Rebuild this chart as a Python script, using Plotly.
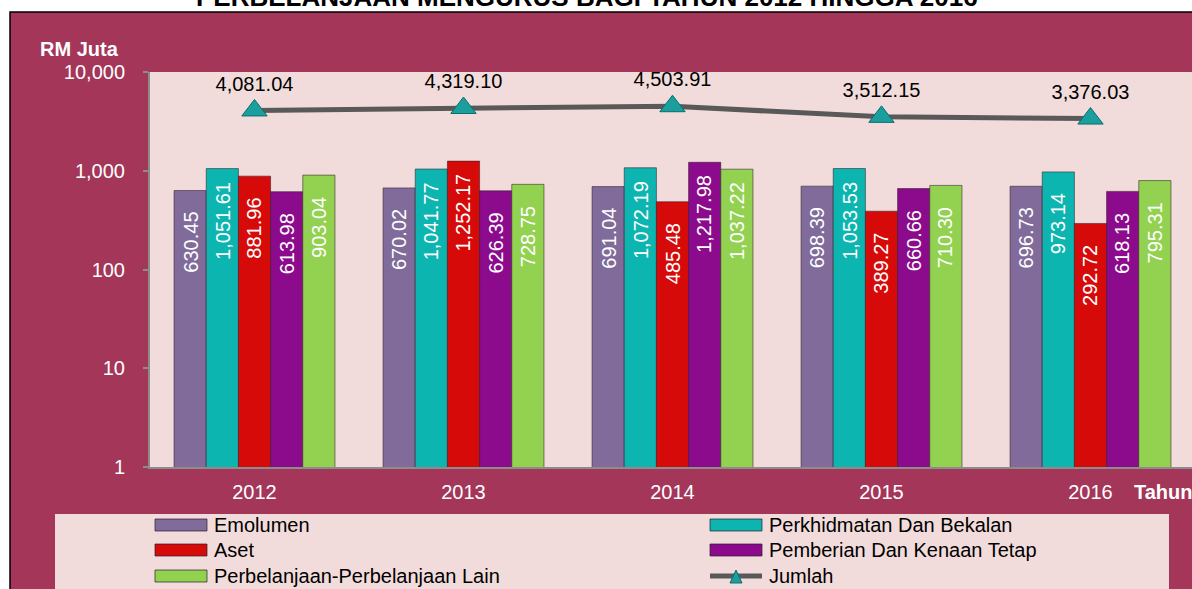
import math
import plotly.graph_objects as go

years = ["2012", "2013", "2014", "2015", "2016"]
series_names = ["Emolumen", "Perkhidmatan Dan Bekalan", "Aset",
                "Pemberian Dan Kenaan Tetap", "Perbelanjaan-Perbelanjaan Lain"]
emolumen = [630.45, 670.02, 691.04, 698.39, 696.73]
perkhidmatan = [1051.61, 1041.77, 1072.19, 1053.53, 973.14]
aset = [881.96, 1252.17, 485.48, 389.27, 292.72]
pemberian = [613.98, 626.39, 1217.98, 660.66, 618.13]
lain = [903.04, 728.75, 1037.22, 710.30, 795.31]
jumlah = [4081.04, 4319.10, 4503.91, 3512.15, 3376.03]
jumlah_name = "Jumlah"
y_tickvals = [1, 10, 100, 1000, 10000]
y_ticktext = ["1", "10", "100", "1,000", "10,000"]
title_text = "PERBELANJAAN MENGURUS BAGI TAHUN 2012 HINGGA 2016"

series_values = [emolumen, perkhidmatan, aset, pemberian, lain]
colors = ["#806B9B", "#0DB5B1", "#D70A0A", "#8C0B8D", "#93D151"]

FONT = "Arial, Liberation Sans, sans-serif"
W, H = 1192, 589
ML, MR, MT, MB = 150, 0, 72, 122
PW = W - ML - MR
PH = H - MT - MB

def px(x):
    return (x - ML) / PW

def py(y):
    return (H - MB - y) / PH

fig = go.Figure()
bargap = 0.23
bw = (1 - bargap) / len(series_names)

for i, (name, vals, col) in enumerate(zip(series_names, series_values, colors)):
    fig.add_trace(go.Bar(
        x=years, y=vals, name=name,
        marker=dict(color=col, line=dict(color="rgba(50,30,40,0.55)", width=1)),
        showlegend=False, hoverinfo="x+y+name"))

fig.add_trace(go.Scatter(
    x=years, y=jumlah, name=jumlah_name, mode="lines+markers+text",
    line=dict(color="#595959", width=5),
    marker=dict(symbol="triangle-up", size=22, color="#1A9E9E",
                line=dict(color="#0E6E6E", width=1)),
    text=[f"{v:,.2f}" for v in jumlah], textposition="top center",
    textfont=dict(family=FONT, size=20, color="#000000"),
    showlegend=False, cliponaxis=False))

annotations = []
# bar value labels (rotated, inside bars)
for i, vals in enumerate(series_values):
    for j, v in enumerate(vals):
        annotations.append(dict(
            x=j + (i - 2) * bw, y=math.log10(v), xref="x", yref="y",
            text=f"{v:,.2f}", textangle=-90, showarrow=False,
            xanchor="center", yanchor="middle", yshift=-52,
            font=dict(family=FONT, size=20, color="#FFFFFF")))

annotations.append(dict(x=px(587), y=py(14), xref="paper", yref="paper",
                        text=f"<b>{title_text}</b>", showarrow=False,
                        xanchor="center", yanchor="bottom",
                        font=dict(family=FONT, size=26, color="#000000")))
annotations.append(dict(x=px(79), y=py(49), xref="paper", yref="paper",
                        text="<b>RM Juta</b>", showarrow=False,
                        xanchor="center", yanchor="middle",
                        font=dict(family=FONT, size=20, color="#FFFFFF")))
annotations.append(dict(x=px(1132), y=py(492), xref="paper", yref="paper",
                        text="<b>Tahun</b>", showarrow=False,
                        xanchor="left", yanchor="middle",
                        font=dict(family=FONT, size=20, color="#FFFFFF")))

shapes = [
    dict(type="rect", xref="paper", yref="paper", layer="below",
         x0=px(10), x1=px(W + 20), y0=py(H + 20), y1=py(12),
         fillcolor="#A33659", line=dict(color="#000000", width=1.5)),
    dict(type="rect", xref="paper", yref="paper", layer="below",
         x0=0, x1=px(W + 5), y0=0, y1=1,
         fillcolor="#F2DCDB", line=dict(width=0)),
    dict(type="rect", xref="paper", yref="paper", layer="below",
         x0=px(55), x1=px(1169), y0=py(H + 20), y1=py(514),
         fillcolor="#F2DCDB", line=dict(width=0)),
]

# manual legend
legend_names = series_names + [jumlah_name]
col_x = [155, 710]
row_y = [525, 550, 576]
for k, name in enumerate(legend_names):
    c, r = k % 2, k // 2
    x0 = col_x[c]
    yc = row_y[r]
    if k < len(series_names):
        shapes.append(dict(type="rect", xref="paper", yref="paper",
                           x0=px(x0), x1=px(x0 + 52), y0=py(yc + 6), y1=py(yc - 6),
                           fillcolor=colors[k],
                           line=dict(color="rgba(40,30,40,0.7)", width=1)))
    else:
        shapes.append(dict(type="line", xref="paper", yref="paper",
                           x0=px(x0), x1=px(x0 + 52), y0=py(yc), y1=py(yc),
                           line=dict(color="#595959", width=5)))
        tx = x0 + 26
        shapes.append(dict(type="path", xref="paper", yref="paper",
                           path=f"M {px(tx-6)} {py(yc+7)} L {px(tx+6)} {py(yc+7)} L {px(tx)} {py(yc-6)} Z",
                           fillcolor="#1A9E9E", line=dict(color="#0E6E6E", width=1)))
    annotations.append(dict(x=px(x0 + 57), y=py(yc), xref="paper", yref="paper",
                            text=name, showarrow=False, xanchor="left", yanchor="middle",
                            font=dict(family=FONT, size=20, color="#000000")))

fig.update_layout(
    width=W, height=H, autosize=False,
    margin=dict(l=ML, r=MR, t=MT, b=MB, pad=0),
    paper_bgcolor="#FFFFFF", plot_bgcolor="rgba(0,0,0,0)",
    barmode="group", bargap=bargap, bargroupgap=0,
    showlegend=False,
    font=dict(family=FONT, size=20, color="#FFFFFF"),
    xaxis=dict(type="category", range=[-0.5, 4.5 - 3 / 209], showgrid=False,
               showline=True, linecolor="#8C8C8C", linewidth=2, ticks="",
               tickfont=dict(family=FONT, size=20, color="#FFFFFF"),
               ticklabelstandoff=6, fixedrange=True),
    yaxis=dict(type="log", range=[0, 4], tickvals=y_tickvals, ticktext=y_ticktext,
               showgrid=False, showline=True, linecolor="#8C8C8C", linewidth=2,
               ticks="outside", ticklen=5, tickcolor="#8C8C8C", tickwidth=2,
               tickfont=dict(family=FONT, size=20, color="#FFFFFF"),
               ticklabelstandoff=14, zeroline=False, fixedrange=True),
    shapes=shapes, annotations=annotations,
)

fig.write_html("out.html", config={"displayModeBar": False},
               post_script="document.body.style.margin='0';document.body.style.overflow='hidden';")
